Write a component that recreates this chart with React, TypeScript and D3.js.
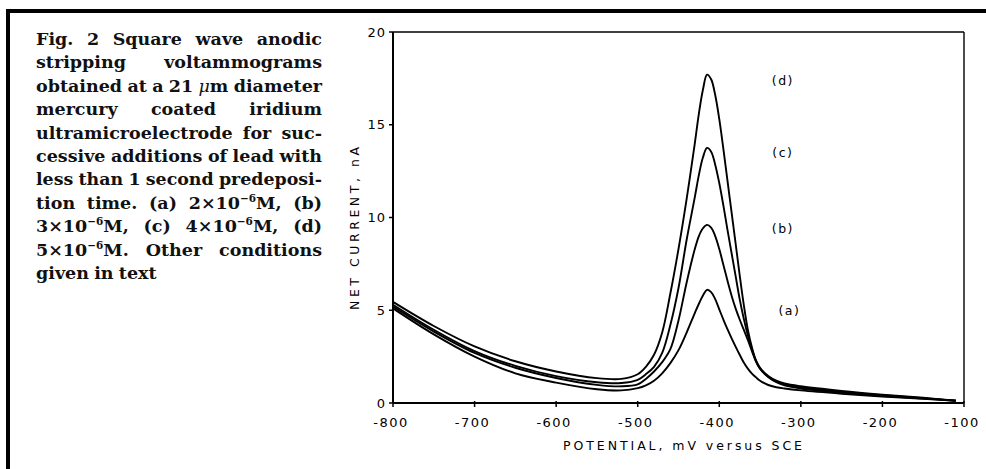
import React, { useEffect, useRef } from "react";
import * as d3 from "d3";

// ---------- data ----------
const POTENTIAL = [
  -800, -750, -700, -650, -600, -550, -520,
  -500, -490, -480, -470, -460, -450, -440, -430,
  -425, -420, -415, -410, -405, -400, -395, -390, -385, -380, -375, -370, -365, -360, -355, -350,
  -340, -330, -320, -300,
  -250, -200, -150, -110,
];

const CURVE_A = [
  5.1, 3.7, 2.5, 1.6, 1.1, 0.74, 0.68,
  0.8, 0.95, 1.2, 1.6, 2.15, 2.85, 3.8, 4.85,
  5.35, 5.8, 6.1, 5.98, 5.6, 5.05, 4.5, 3.98, 3.5, 3.04, 2.6, 2.18, 1.85, 1.58, 1.38, 1.2,
  0.97, 0.85, 0.78, 0.68,
  0.5, 0.35, 0.22, 0.12,
];
const CURVE_B = [
  5.2, 3.85, 2.7, 1.9, 1.35, 0.98, 0.9,
  1.0, 1.3, 1.7, 2.2, 2.9, 4.45, 6.5, 8.3,
  9.0, 9.42, 9.6, 9.45, 9.0, 8.3, 7.45, 6.6, 5.8, 5.1, 4.5, 3.95, 3.4, 2.8, 2.25, 1.85,
  1.4, 1.12, 0.95, 0.78,
  0.55, 0.38, 0.24, 0.12,
];
const CURVE_C = [
  5.3, 3.95, 2.8, 2.0, 1.45, 1.12, 1.08,
  1.25, 1.55, 1.95, 2.7, 4.2, 6.2, 8.8, 11.1,
  12.3, 13.25, 13.75, 13.55, 12.85, 11.85, 10.65, 9.35, 8.1, 6.85, 5.6, 4.55, 3.65, 2.9, 2.25, 1.85,
  1.42, 1.15, 1.0, 0.85,
  0.6, 0.42, 0.26, 0.13,
];
const CURVE_D = [
  5.45, 4.15, 3.05, 2.25, 1.7, 1.34, 1.3,
  1.55, 1.95, 2.6, 3.8, 5.9, 8.3, 11.0, 14.0,
  15.6, 16.9, 17.7, 17.45, 16.6, 15.3, 13.7, 12.0, 10.3, 8.6, 6.9, 5.3, 3.95, 3.0, 2.3, 1.9,
  1.45, 1.2, 1.05, 0.9,
  0.65, 0.45, 0.28, 0.13,
];

const SERIES = [CURVE_A, CURVE_B, CURVE_C, CURVE_D];
const SERIES_LABELS = ["(a)", "(b)", "(c)", "(d)"];

const X_TICKS = [-800, -700, -600, -500, -400, -300, -200, -100];
const Y_TICKS = [0, 5, 10, 15, 20];
const X_TITLE = "POTENTIAL,  mV  versus  SCE";
const Y_TITLE = "NET  CURRENT,  nA";

const CAPTION_LINES = [
  "Fig. 2 Square wave anodic",
  "stripping voltammograms",
  "obtained at a 21 ~μ~m diameter",
  "mercury coated iridium",
  "ultramicroelectrode for suc-",
  "cessive additions of lead with",
  "less than 1 second predeposi-",
  "tion time. (a) 2×10^−6^M, (b)",
  "3×10^−6^M, (c) 4×10^−6^M, (d)",
  "5×10^−6^M. Other conditions",
  "given in text",
];

// ---------- layout ----------
const WIDTH = 986;
const HEIGHT = 469;
const PLOT = { left: 393, right: 964, top: 32, bottom: 403 };
const LABEL_POS = [
  { x: -314, y: 4.96 },
  { x: -322, y: 9.4 },
  { x: -322, y: 13.5 },
  { x: -322, y: 17.4 },
];
const CAPTION = { x: 36, y: 45, width: 286, lineHeight: 23.4, fontSize: 17.5 };
const SANS = "'DejaVu Sans', sans-serif";
const SERIF = "'DejaVu Serif', serif";

export default function App() {
  const capRef = useRef<SVGGElement | null>(null);

  const x = d3.scaleLinear().domain([-800, -100]).range([PLOT.left, PLOT.right]);
  const y = d3.scaleLinear().domain([0, 20]).range([PLOT.bottom, PLOT.top]);

  const line = d3
    .line<number>()
    .x((_, i) => x(POTENTIAL[i]))
    .y((v) => y(v))
    .curve(d3.curveCatmullRom.alpha(0.5));

  useEffect(() => {
    if (!capRef.current) return;
    const g = d3.select(capRef.current);
    g.selectAll("*").remove();
    const fs = CAPTION.fontSize;
    CAPTION_LINES.forEach((ln, li) => {
      const words = ln.split(" ");
      const lg = g.append("g");
      const nodes = words.map((w) => {
        const t = lg
          .append("text")
          .attr("font-family", SERIF)
          .attr("font-weight", "bold")
          .attr("font-size", fs)
          .attr("fill", "#111");
        const re = /(\^[^^]*\^|~[^~]*~)/g;
        const parts = w.split(re).filter((p) => p.length > 0);
        let shifted = false;
        parts.forEach((p) => {
          if (p.startsWith("^")) {
            t.append("tspan")
              .attr("font-size", fs * 0.6)
              .attr("dy", -fs * 0.4)
              .text(p.slice(1, -1));
            shifted = true;
          } else if (p.startsWith("~")) {
            t.append("tspan").attr("font-style", "italic").attr("font-weight", "normal").text(p.slice(1, -1));
          } else {
            const ts = t.append("tspan").text(p);
            if (shifted) {
              ts.attr("dy", fs * 0.4);
              shifted = false;
            }
          }
        });
        return t;
      });
      const widths = nodes.map((n) => (n.node() as SVGTextElement).getComputedTextLength());
      const sum = d3.sum(widths);
      const n = words.length;
      const isLast = li === CAPTION_LINES.length - 1;
      const spaceW = fs * 0.3;
      let s = 1;
      if (sum + (n - 1) * spaceW > CAPTION.width) {
        s = (CAPTION.width - (n - 1) * spaceW) / sum;
      }
      const gap = isLast || n === 1 ? spaceW : (CAPTION.width - sum * s) / (n - 1);
      const yy = CAPTION.y + li * CAPTION.lineHeight;
      let cx = CAPTION.x;
      nodes.forEach((t, i) => {
        t.attr("transform", `translate(${cx},${yy}) scale(${s},1)`);
        cx += widths[i] * s + gap;
      });
    });
  }, []);

  return (
    <svg
      width={WIDTH}
      height={HEIGHT}
      viewBox={`0 0 ${WIDTH} ${HEIGHT}`}
      style={{ position: "absolute", left: 0, top: 0, background: "#fff" }}
    >
      {/* page borders */}
      <rect x={6} y={9} width={WIDTH - 6} height={4} fill="#000" />
      <rect x={6} y={9} width={4} height={HEIGHT - 9} fill="#000" />

      {/* caption */}
      <g ref={capRef} />

      {/* plot frame */}
      <line x1={PLOT.left} x2={PLOT.right} y1={PLOT.top} y2={PLOT.top} stroke="#000" strokeWidth={1.4} />
      <line x1={PLOT.right} x2={PLOT.right} y1={PLOT.top} y2={PLOT.bottom} stroke="#000" strokeWidth={1.4} />
      <line x1={PLOT.left} x2={PLOT.left} y1={PLOT.top} y2={PLOT.bottom} stroke="#000" strokeWidth={2} />
      <line x1={PLOT.left} x2={PLOT.right} y1={PLOT.bottom} y2={PLOT.bottom} stroke="#000" strokeWidth={2} />

      {/* y ticks */}
      {Y_TICKS.map((t) => (
        <g key={"y" + t}>
          <line x1={PLOT.left - 4} x2={PLOT.left} y1={y(t)} y2={y(t)} stroke="#000" strokeWidth={1.5} />
          <text
            x={PLOT.left - 7}
            y={y(t)}
            dy="0.36em"
            textAnchor="end"
            fontFamily={SANS}
            fontSize={13}
            letterSpacing={1}
            fill="#000"
          >
            {t}
          </text>
        </g>
      ))}

      {/* x ticks */}
      {X_TICKS.map((t) => (
        <g key={"x" + t}>
          <line x1={x(t)} x2={x(t)} y1={PLOT.bottom - 2} y2={PLOT.bottom + 4} stroke="#000" strokeWidth={1.5} />
          <text
            x={x(t) - 2}
            y={PLOT.bottom + 24}
            textAnchor="middle"
            fontFamily={SANS}
            fontSize={13}
            letterSpacing={1.5}
            fill="#000"
          >
            {t < 0 ? "-" + Math.abs(t) : String(t)}
          </text>
        </g>
      ))}

      {/* axis titles */}
      <text x={563} y={450} fontFamily={SANS} fontSize={12.5} textLength={239} lengthAdjust="spacing" fill="#000">
        {X_TITLE}
      </text>
      <text
        transform={`translate(359,310) rotate(-90)`}
        fontFamily={SANS}
        fontSize={12.5}
        textLength={163}
        lengthAdjust="spacing"
        fill="#000"
      >
        {Y_TITLE}
      </text>

      {/* curves */}
      {SERIES.map((s, i) => (
        <path key={"c" + i} d={line(s) || ""} fill="none" stroke="#000" strokeWidth={1.9} strokeLinejoin="round" />
      ))}

      {/* curve labels */}
      {SERIES_LABELS.map((lab, i) => (
        <text
          key={"l" + i}
          x={x(LABEL_POS[i].x)}
          y={y(LABEL_POS[i].y)}
          dy="0.36em"
          textAnchor="middle"
          fontFamily={SANS}
          fontSize={12.5}
          letterSpacing={1.5}
          fill="#000"
        >
          {lab}
        </text>
      ))}
    </svg>
  );
}
